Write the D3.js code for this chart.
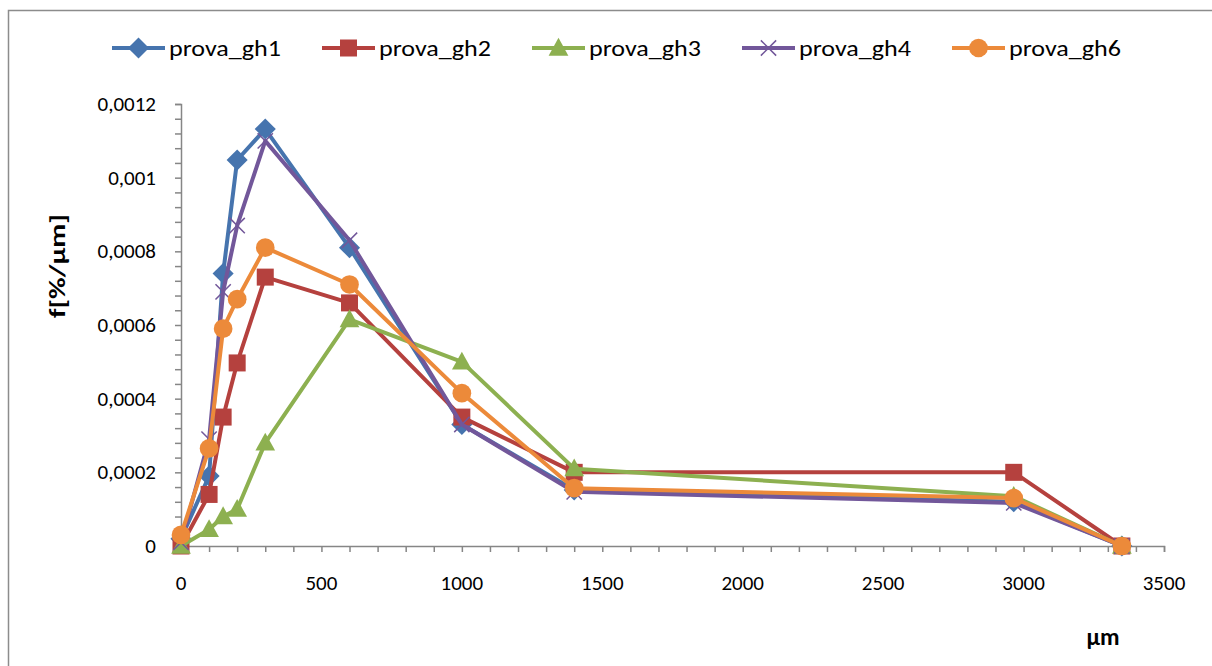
<!DOCTYPE html>
<html>
<head>
<meta charset="utf-8">
<script src="https://cdn.jsdelivr.net/npm/d3@7"></script>
<style>
  body { margin: 0; background: #fff; }
  text { font-family: Carlito, "Liberation Sans Narrow", "Open Sans", sans-serif; fill: #000; }
</style>
</head>
<body>
<script>
var width = 1212,
    height = 666;

// sieve sizes (µm) and series
var sizes = [0, 100, 150, 200, 300, 600, 1000, 1400, 2965, 3350];
var gh1 = [0.00002, 0.00019, 0.00074, 0.001048, 0.001132, 0.00081, 0.00033, 0.000152, 0.00012, 0];
var gh2 = [0, 0.00014, 0.00035, 0.000497, 0.00073, 0.00066, 0.00035, 0.0002, 0.0002, 0];
var gh3 = [0, 0.000045, 0.00008, 0.0001, 0.00028, 0.000615, 0.0005, 0.00021, 0.000135, 0];
var gh4 = [0.00001, 0.00029, 0.00069, 0.00087, 0.0011, 0.00083, 0.00033, 0.000147, 0.000117, 0];
var gh6 = [0.00003, 0.000265, 0.00059, 0.00067, 0.00081, 0.00071, 0.000415, 0.000157, 0.00013, 0];

var seriesNames = ["prova_gh1", "prova_gh2", "prova_gh3", "prova_gh4", "prova_gh6"];
var seriesValues = [gh1, gh2, gh3, gh4, gh6];
var colors = ["#4674AE", "#B5413E", "#8DB050", "#72579A", "#EC8A3A"];
var markers = ["diamond", "square", "triangle", "cross", "circle"];

var xTicks = [0, 500, 1000, 1500, 2000, 2500, 3000, 3500];
var yTicks = [0, 0.0002, 0.0004, 0.0006, 0.0008, 0.001, 0.0012];
var yTickLabels = ["0", "0,0002", "0,0004", "0,0006", "0,0008", "0,001", "0,0012"];

var svg = d3.select("body").append("svg")
    .attr("width", width)
    .attr("height", height);

// chart area border
svg.append("rect")
    .attr("x", 8.5).attr("y", 10.5)
    .attr("width", 1220).attr("height", 680)
    .attr("fill", "#fff")
    .attr("stroke", "#8c8c8c")
    .attr("stroke-width", 1.5);

var x = d3.scaleLinear().domain([0, 3500]).range([181, 1164]);
var y = d3.scaleLinear().domain([0, 0.0012]).range([546, 104]);

var axisColor = "#868686";

// y axis
var yAxis = svg.append("g").attr("transform", "translate(181,0)");
yAxis.call(d3.axisLeft(y).tickValues(d3.range(0, 31).map(function(i) { return i * 0.00004; }))
    .tickSize(6).tickFormat(""));
yAxis.selectAll("line").attr("stroke", axisColor).attr("stroke-width", 1.5);
yAxis.select(".domain").attr("stroke", axisColor).attr("stroke-width", 1.5);

svg.append("g").selectAll("text")
    .data(yTicks)
    .enter()
    .append("text")
    .attr("x", 156)
    .attr("y", function(d) { return y(d) + 7; })
    .attr("text-anchor", "end")
    .style("font-size", "21px")
    .text(function(d, i) { return yTickLabels[i]; });

// x axis
var xAxis = svg.append("g").attr("transform", "translate(0,546)");
xAxis.call(d3.axisBottom(x).tickValues(d3.range(0, 36).map(function(i) { return i * 100; }))
    .tickSize(6).tickFormat(""));
xAxis.selectAll("line").attr("stroke", axisColor).attr("stroke-width", 1.5);
xAxis.select(".domain").attr("stroke", axisColor).attr("stroke-width", 1.5);

svg.append("g").selectAll("text")
    .data(xTicks)
    .enter()
    .append("text")
    .attr("x", function(d) { return x(d); })
    .attr("y", 590)
    .attr("text-anchor", "middle")
    .style("font-size", "21px")
    .text(function(d) { return d; });

// axis titles
svg.append("text")
    .attr("transform", "translate(65,266) rotate(-90)")
    .attr("text-anchor", "middle")
    .attr("textLength", 104)
    .attr("lengthAdjust", "spacingAndGlyphs")
    .style("font-size", "22px")
    .style("font-weight", "bold")
    .text("f[%/µm]");

svg.append("text")
    .attr("x", 1103)
    .attr("y", 645)
    .attr("text-anchor", "middle")
    .style("font-size", "24px")
    .style("font-weight", "bold")
    .text("µm");

function drawMarker(g, type, color, cx, cy, s) {
    if (type == "diamond") {
        g.append("path")
            .attr("d", "M" + cx + "," + (cy - s * 0.62) + "L" + (cx + s * 0.62) + "," + cy +
                 "L" + cx + "," + (cy + s * 0.62) + "L" + (cx - s * 0.62) + "," + cy + "Z")
            .attr("fill", color);
    } else if (type == "square") {
        g.append("rect")
            .attr("x", cx - s / 2).attr("y", cy - s / 2)
            .attr("width", s).attr("height", s)
            .attr("fill", color);
    } else if (type == "triangle") {
        g.append("path")
            .attr("d", "M" + cx + "," + (cy - s * 0.6) + "L" + (cx + s * 0.58) + "," + (cy + s * 0.45) +
                 "L" + (cx - s * 0.58) + "," + (cy + s * 0.45) + "Z")
            .attr("fill", color);
    } else if (type == "cross") {
        var h = s * 0.45;
        g.append("path")
            .attr("d", "M" + (cx - h) + "," + (cy - h) + "L" + (cx + h) + "," + (cy + h) +
                 "M" + (cx + h) + "," + (cy - h) + "L" + (cx - h) + "," + (cy + h))
            .attr("stroke", color)
            .attr("stroke-width", 1.5)
            .attr("fill", "none");
    } else {
        g.append("circle")
            .attr("cx", cx).attr("cy", cy).attr("r", s * 0.55)
            .attr("fill", color);
    }
}

var line = d3.line()
    .x(function(d) { return x(d[0]); })
    .y(function(d) { return y(d[1]); });

seriesValues.forEach(function(vals, k) {
    var pts = sizes.map(function(s, i) { return [s, vals[i]]; });
    var g = svg.append("g").attr("class", "series");
    g.append("path")
        .attr("d", line(pts))
        .attr("fill", "none")
        .attr("stroke", colors[k])
        .attr("stroke-width", 4)
        .attr("stroke-linejoin", "round");
    pts.forEach(function(p) {
        drawMarker(g, markers[k], colors[k], x(p[0]), y(p[1]), 17);
    });
});

// legend
var legend = svg.append("g");
seriesNames.forEach(function(name, k) {
    var lx = 112 + k * 210;
    legend.append("line")
        .attr("x1", lx).attr("x2", lx + 53)
        .attr("y1", 48).attr("y2", 48)
        .attr("stroke", colors[k])
        .attr("stroke-width", 4);
    drawMarker(legend, markers[k], colors[k], lx + 26.5, 48, 17);
    legend.append("text")
        .attr("x", lx + 57)
        .attr("y", 56)
        .attr("textLength", 112)
        .attr("lengthAdjust", "spacingAndGlyphs")
        .style("font-size", "22px")
        .text(name);
});
</script>
</body>
</html>
